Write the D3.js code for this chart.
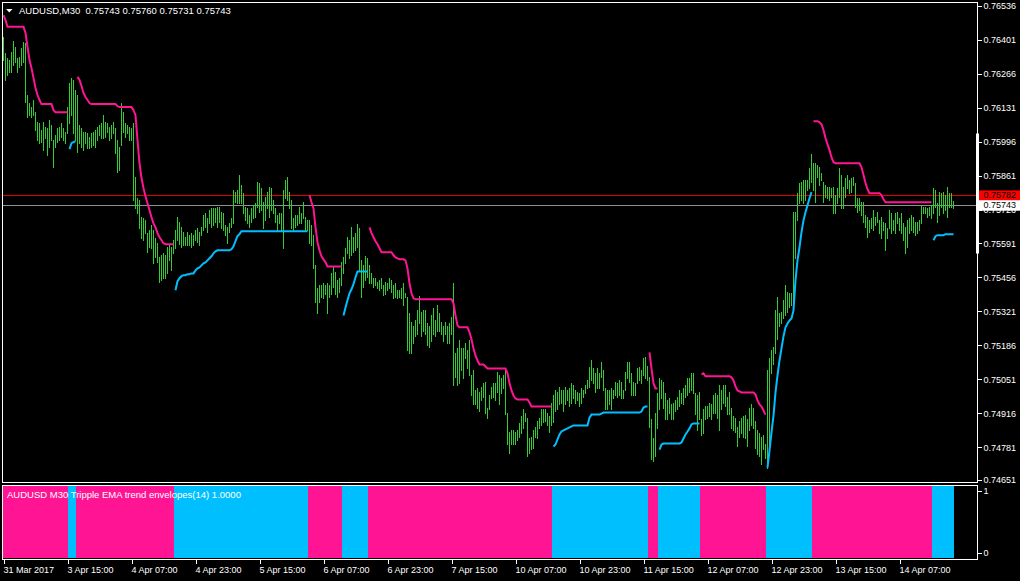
<!DOCTYPE html>
<html>
<head>
<meta charset="utf-8">
<script src="https://cdn.jsdelivr.net/npm/d3@7"></script>
<style>
  html, body { margin: 0; padding: 0; background: #000; }
  svg { display: block; }
  text { font-family: "Liberation Sans", Arial, sans-serif; fill: #fff; white-space: pre; }
</style>
</head>
<body>
<svg id="chart" width="1020" height="581"></svg>
<script>
// ---------------- DATA (prices in points, 1 point = 0.00001) ----------------
const symbolName = "AUDUSD,M30";
const lastOHLC = [0.75743, 0.75760, 0.75731, 0.75743];
const indicatorLabel = "AUDUSD M30 Tripple EMA trend envelopes(14) 1.0000";
const bidPrice = 0.75743;
const askPrice = 0.75782;
const scaleMarker = [0.76028, 0.75551];

const priceTicks = [0.76536, 0.76401, 0.76266, 0.76131, 0.75996, 0.75861, 0.75726,
  0.75591, 0.75456, 0.75321, 0.75186, 0.75051, 0.74916, 0.74781, 0.74651];
const priceMin = 0.74651, priceTop = 0.76536;

const timeLabels = ["31 Mar 2017", "3 Apr 15:00", "4 Apr 07:00", "4 Apr 23:00", "5 Apr 15:00",
  "6 Apr 07:00", "6 Apr 23:00", "7 Apr 15:00", "10 Apr 07:00", "10 Apr 23:00", "11 Apr 15:00",
  "12 Apr 07:00", "12 Apr 23:00", "13 Apr 15:00", "14 Apr 07:00"];
const timeLabelBars = [0, 32, 64, 96, 128, 160, 192, 224, 256, 288, 320, 352, 384, 416, 448];

const highs = [
76412,76348,76328,76320,76352,76396,76372,76328,76332,76368,
76392,76388,76181,76149,76133,76161,76113,76073,76069,76042,
76073,76054,76050,76081,76062,76002,76022,76050,76054,76069,
76050,76034,76133,76229,76249,76241,76201,76181,76062,76050,
76034,76034,76030,76014,76030,76034,76042,76054,76062,76069,
76101,76073,76069,76054,76062,76073,76050,76002,75974,76149,
76113,76069,76062,76054,76050,76069,75855,75771,75763,75695,
75691,75683,75632,75644,75664,75644,75612,75592,75536,75544,
75552,75544,75576,75584,75576,75604,75644,75695,75675,75655,
75636,75616,75636,75624,75632,75624,75644,75652,75636,75655,
75703,75711,75691,75723,75731,75731,75731,75735,75735,75715,
75711,75664,75655,75671,75691,75803,75795,75803,75863,75823,
75791,75735,75731,75703,75731,75743,75751,75835,75831,75811,
75755,75775,75795,75815,75811,75763,75731,75703,75711,75711,
75803,75843,75855,75795,75763,75691,75703,75703,75735,75711,
75755,75695,75683,75683,75664,75624,75504,75413,75425,75425,
75433,75425,75433,75425,75472,75496,75476,75445,75453,75516,
75536,75572,75616,75604,75655,75616,75632,75667,75651,75524,
75504,75540,75532,75504,75472,75453,75453,75437,75445,75453,
75425,75437,75433,75453,75445,75425,75433,75405,75405,75413,
75433,75393,75377,75313,75277,75265,75285,75325,75381,75317,
75325,75325,75273,75265,75305,75333,75285,75345,75313,75277,
75265,75277,75265,75273,75297,75433,75154,75174,75206,75174,
75174,75194,75166,75206,75067,75087,75007,75015,74999,75019,
75035,75039,74939,74987,75019,75035,75035,75079,75067,75055,
75067,75087,74919,74840,74848,74848,74840,74848,74876,74907,
74935,74919,74899,74816,74820,74848,74860,74887,74899,74935,
74935,74935,74919,74907,74959,74987,75007,74999,75019,75007,
75007,75019,75007,75015,75035,75027,75007,74999,74995,75015,
75007,75027,75047,75099,75126,75095,75075,75095,75075,75118,
75087,75015,75007,75007,75015,75007,75039,75035,75047,75039,
75007,75079,75118,75118,75075,75039,75035,75095,75099,75087,
75134,75138,75106,75059,74895,74816,74919,74995,75055,75047,
75039,74995,74967,74975,74955,74959,74967,74979,75007,74995,
75015,75027,75055,75055,75075,75075,74995,74987,74999,74895,
74935,74947,74947,74959,74955,74987,74995,74987,75027,75007,
75027,75027,74979,74999,74939,74907,74899,74860,74887,74899,
74907,74911,74895,74939,74955,74939,74887,74848,74836,74820,
74828,74796,75087,75134,75166,75178,75325,75377,75313,75317,
75365,75425,75397,75393,75393,75715,75715,75791,75831,75835,
75843,75843,75843,75890,75946,75910,75910,75902,75894,75870,
75835,75823,75815,75815,75811,75815,75783,75811,75890,75863,
75815,75851,75863,75843,75851,75855,75831,75771,75771,75755,
75755,75703,75695,75683,75691,75723,75695,75715,75683,75695,
75675,75671,75651,75723,75711,75683,75711,75715,75691,75711,
75671,75655,75683,75691,75703,75695,75675,75675,75683,75743,
75735,75735,75731,75735,75743,75811,75803,75751,75795,75791,
75795,75783,75815,75791,75791,75760];

const lows = [
76320,76241,76261,76272,76272,76300,76312,76272,76292,76300,
76312,76153,76093,76101,76093,76101,76042,76002,75990,75994,
75962,76010,75942,75974,76002,75894,75974,75994,76002,76014,
76002,75990,76030,76069,76101,76030,76002,75954,75990,75974,
75962,75990,75970,75970,75974,75982,75974,76002,76022,76010,
76010,76014,76034,76002,76010,76030,75950,75874,75882,75982,
76034,76014,76030,76002,76002,75763,75731,75711,75652,75612,
75604,75632,75556,75576,75572,75512,75536,75516,75437,75445,
75453,75453,75472,75524,75484,75552,75572,75604,75588,75576,
75584,75584,75584,75584,75576,75584,75604,75596,75584,75624,
75644,75655,75636,75671,75655,75663,75675,75655,75675,75651,
75644,75624,75592,75636,75655,75671,75755,75751,75751,75751,
75711,75683,75671,75655,75675,75691,75695,75735,75715,75723,
75651,75683,75731,75695,75723,75711,75675,75644,75671,75644,
75572,75771,75763,75731,75651,75644,75655,75663,75671,75671,
75691,75644,75644,75592,75584,75492,75357,75313,75357,75377,
75373,75389,75313,75377,75389,75417,75389,75377,75397,75425,
75472,75512,75552,75532,75544,75556,75564,75576,75484,75377,
75417,75445,75457,75433,75433,75417,75425,75413,75405,75413,
75385,75389,75405,75413,75397,75373,75377,75373,75377,75373,
75345,75377,75166,75154,75154,75197,75225,75233,75273,75225,
75245,75233,75189,75181,75205,75233,75225,75245,75245,75233,
75205,75233,75197,75197,75233,75027,75059,75027,75035,75087,
75055,75134,75095,75067,74987,74955,74955,74939,74927,74967,
74979,74919,74899,74935,74975,74979,74967,74999,74955,74995,
75015,74915,74796,74760,74796,74796,74796,74808,74820,74836,
74856,74887,74748,74760,74776,74780,74820,74816,74856,74868,
74880,74887,74868,74840,74868,74880,74927,74935,74955,74959,
74927,74955,74967,74947,74959,74975,74959,74967,74947,74959,
74979,74995,75015,75019,75047,75035,74999,75015,75015,75059,
75007,74935,74935,74955,74935,74975,74987,74979,74987,74975,
74975,75007,75055,75039,74987,74987,74987,75035,75047,75035,
75067,75055,75047,74860,74736,74728,74748,74856,74935,74975,
74939,74895,74895,74919,74895,74895,74927,74935,74947,74959,
74955,74979,74987,74999,75007,74995,74915,74848,74895,74828,
74836,74895,74899,74907,74895,74919,74919,74899,74848,74935,
74959,74947,74915,74915,74856,74848,74840,74788,74820,74836,
74820,74816,74788,74848,74868,74856,74780,74756,74748,74716,
74776,74740,74700,74776,75075,75114,75154,75211,75265,75273,
75293,75305,75317,75337,75345,75353,75532,75683,75751,75763,
75751,75763,75803,75811,75835,75803,75755,75855,75823,75843,
75755,75775,75771,75763,75775,75711,75711,75751,75775,75731,
75731,75775,75811,75791,75795,75823,75735,75715,75723,75703,
75675,75655,75616,75636,75651,75644,75664,75675,75632,75612,
75644,75564,75612,75651,75632,75644,75632,75671,75644,75632,
75604,75552,75576,75632,75644,75636,75624,75632,75644,75671,
75711,75711,75695,75703,75691,75711,75735,75675,75703,75735,
75711,75723,75695,75735,75735,75731];

// active envelope value for each bar (upper band in a down trend, lower band in an up trend)
const envelope = [
76499,76479,76452,76452,76452,76452,76452,76452,76452,76452,
76452,76428,76372,76320,76288,76249,76209,76181,76161,76145,
76145,76145,76145,76145,76145,76121,76113,76113,76113,76113,
76113,76113,76113,75966,75990,75994,75998,76253,76241,76217,
76189,76173,76161,76149,76145,76145,76145,76145,76145,76145,
76145,76145,76145,76145,76145,76145,76145,76137,76133,76133,
76133,76133,76133,76133,76133,76121,76101,76002,75910,75851,
75811,75779,75751,75723,75695,75671,75655,75632,75616,75604,
75592,75588,75588,75588,75588,75588,75405,75441,75453,75461,
75465,75465,75469,75469,75472,75472,75484,75492,75496,75504,
75512,75516,75524,75532,75540,75552,75560,75564,75564,75564,
75564,75564,75564,75564,75568,75580,75600,75620,75628,75640,
75640,75640,75640,75640,75640,75640,75640,75640,75640,75640,
75640,75640,75640,75640,75640,75640,75640,75640,75640,75640,
75640,75640,75640,75640,75640,75640,75640,75640,75640,75640,
75640,75640,75640,75783,75755,75731,75655,75596,75564,75540,
75528,75516,75500,75500,75500,75500,75500,75500,75500,75500,
75305,75337,75365,75393,75409,75429,75457,75480,75480,75480,
75480,75480,75480,75655,75632,75616,75600,75588,75572,75556,
75556,75556,75556,75556,75556,75544,75536,75532,75528,75528,
75528,75524,75492,75433,75393,75373,75369,75369,75369,75369,
75369,75369,75369,75369,75369,75369,75369,75369,75369,75369,
75369,75369,75369,75369,75369,75353,75305,75265,75258,75258,
75258,75258,75258,75238,75210,75174,75146,75126,75110,75110,
75110,75102,75094,75094,75094,75094,75094,75094,75094,75094,
75094,75094,75075,75035,75007,74987,74975,74971,74971,74971,
74971,74971,74971,74959,74943,74943,74943,74943,74943,74943,
74943,74943,74943,74943,74943,74784,74792,74812,74832,74844,
74848,74852,74856,74860,74864,74868,74868,74868,74868,74868,
74868,74868,74868,74899,74911,74911,74911,74911,74911,74915,
74919,74919,74919,74919,74919,74919,74919,74919,74919,74919,
74919,74919,74919,74919,74919,74919,74919,74919,74919,74923,
74939,74943,74943,75158,75094,75035,75015,75015,74772,74792,
74796,74796,74796,74796,74796,74796,74796,74796,74796,74800,
74816,74832,74844,74856,74872,74876,74876,74876,74876,75071,
75075,75063,75063,75063,75063,75063,75063,75063,75063,75063,
75063,75063,75063,75063,75059,75047,75023,75007,75003,74999,
74999,74999,74999,74999,74999,74999,74991,74967,74951,74943,
74927,74911,74700,74768,74840,74907,74999,75067,75126,75174,
75222,75258,75273,75285,75293,75325,75445,75524,75576,75636,
75683,75715,75743,75771,75795,76077,76077,76077,76073,76065,
76042,76010,75986,75962,75934,75914,75910,75910,75910,75910,
75910,75910,75910,75910,75910,75910,75910,75910,75910,75894,
75863,75831,75807,75791,75791,75791,75791,75791,75791,75783,
75767,75755,75755,75755,75755,75755,75755,75755,75755,75755,
75755,75755,75755,75755,75755,75755,75755,75755,75755,75755,
75755,75755,75755,75755,75755,75604,75620,75624,75624,75624,
75624,75628,75628,75628,75628,75628];

// trend runs: first bar of each run and its direction (-1 = down / pink, 1 = up / blue)
const trendStart = [0, 33, 37, 86, 153, 170, 183, 275, 323, 328, 349, 382, 405, 465];
const trendDir   = [-1, 1, -1, 1, -1, 1, -1, 1, -1, 1, -1, 1, -1, 1];

// ---------------- DRAWING ----------------
const N = highs.length;
const pts = v => v / 1e5;
const COL_DOWN = "#ff1493", COL_UP = "#00bfff", COL_BAR = "#32cd32";
const svg = d3.select("#chart");
svg.append("rect").attr("width", 1020).attr("height", 581).attr("fill", "#000");

const x = d3.scaleLinear().domain([0, 475]).range([3, 953]);
const y = d3.scaleLinear().domain([priceMin, priceTop]).range([480, 5.7]);
const yi = d3.scaleLinear().domain([0, 1]).range([558, 486]);

// trend per bar
const trendOf = new Array(N);
trendStart.forEach((s, k) => {
  const e = k + 1 < trendStart.length ? trendStart[k + 1] : N;
  for (let i = s; i < e; i++) trendOf[i] = trendDir[k];
});

// main window frame
svg.append("rect").attr("x", 2.5).attr("y", 2.5).attr("width", 975).attr("height", 480)
  .attr("fill", "none").attr("stroke", "#fff").attr("shape-rendering", "crispEdges");

const plot = svg.append("g");
// ask / bid lines
plot.append("line").attr("x1", 3).attr("x2", 977)
  .attr("y1", Math.round(y(askPrice)) + 0.5).attr("y2", Math.round(y(askPrice)) + 0.5)
  .attr("stroke", "#e00000").attr("shape-rendering", "crispEdges");
plot.append("line").attr("x1", 3).attr("x2", 977)
  .attr("y1", Math.round(y(bidPrice)) + 0.5).attr("y2", Math.round(y(bidPrice)) + 0.5)
  .attr("stroke", "#909090").attr("shape-rendering", "crispEdges");

// price bars (high-low)
plot.append("g").selectAll("line").data(d3.range(N)).join("line")
  .attr("x1", i => Math.round(x(i)) + 0.5).attr("x2", i => Math.round(x(i)) + 0.5)
  .attr("y1", i => y(pts(highs[i]))).attr("y2", i => y(pts(lows[i])) + 1)
  .attr("stroke", COL_BAR).attr("stroke-width", 1).attr("shape-rendering", "crispEdges");

// envelope lines
const line = d3.line().x(i => x(i) + 0.5).y(i => y(pts(envelope[i])));
trendStart.forEach((s, k) => {
  const e = k + 1 < trendStart.length ? trendStart[k + 1] - 1 : N - 1;
  plot.append("path").datum(d3.range(s, e + 1))
    .attr("d", line).attr("fill", "none")
    .attr("stroke", trendDir[k] < 0 ? COL_DOWN : COL_UP).attr("stroke-width", 2);
});

// right price axis
const yAxis = d3.axisRight(y).tickValues(priceTicks).tickSize(4).tickPadding(2)
  .tickFormat(d3.format(".5f"));
const ya = svg.append("g").attr("transform", "translate(977.5,0)").call(yAxis);
ya.select(".domain").remove();
ya.selectAll("line").attr("stroke", "#fff").attr("shape-rendering", "crispEdges");
ya.selectAll("text").attr("fill", "#fff").style("font-size", "9px").attr("font-family", null);

// scale marker bar
svg.append("rect").attr("x", 976).attr("y", y(scaleMarker[0]))
  .attr("width", 3).attr("height", y(scaleMarker[1]) - y(scaleMarker[0])).attr("fill", "#fff");

// ask / bid labels
function priceBox(p, bg, ty) {
  const yc = y(p);
  svg.append("rect").attr("x", 979).attr("y", yc - 5).attr("width", 41).attr("height", 10.5).attr("fill", bg);
  svg.append("text").attr("x", 983.5).attr("y", yc).attr("dy", "0.34em")
    .style("font-size", "9px").style("fill", ty).text(d3.format(".5f")(p));
}
priceBox(askPrice, "#ff0000", "#000");
priceBox(bidPrice, "#ffffff", "#000");

// title
svg.append("path").attr("d", "M6,9 L12.5,9 L9.25,12.5 Z").attr("fill", "#fff");
svg.append("text").attr("x", 19).attr("y", 14).style("font-size", "9.5px")
  .text(symbolName + "  " + lastOHLC.map(d3.format(".5f")).join(" "));

// indicator window
const ind = svg.append("g");
ind.selectAll("rect").data(d3.range(N)).join("rect")
  .attr("x", i => x(i) - 1).attr("width", 2)
  .attr("y", yi(1)).attr("height", yi(0) - yi(1))
  .attr("fill", i => trendOf[i] < 0 ? COL_DOWN : COL_UP)
  .attr("shape-rendering", "crispEdges");
svg.append("rect").attr("x", 2.5).attr("y", 485.5).attr("width", 975).attr("height", 74)
  .attr("fill", "none").attr("stroke", "#fff").attr("shape-rendering", "crispEdges");
svg.append("text").attr("x", 7).attr("y", 497.5).style("font-size", "9.5px").text(indicatorLabel);
[[1, 5], [0, -5]].forEach(([v, off]) => {
  svg.append("line").attr("x1", 977.5).attr("x2", 981.5)
    .attr("y1", yi(v) + off + 0.5).attr("y2", yi(v) + off + 0.5)
    .attr("stroke", "#fff").attr("shape-rendering", "crispEdges");
  svg.append("text").attr("x", 983.5).attr("y", yi(v) + off).attr("dy", "0.34em")
    .style("font-size", "9px").text(String(v));
});

// time axis
const xAxis = d3.axisBottom(x).tickValues(timeLabelBars).tickSize(4).tickPadding(3)
  .tickFormat((d, k) => timeLabels[k]);
const xa = svg.append("g").attr("transform", "translate(0.5,559.5)").call(xAxis);
xa.select(".domain").remove();
xa.selectAll("line").attr("stroke", "#fff").attr("shape-rendering", "crispEdges");
xa.selectAll("text").attr("fill", "#fff").attr("text-anchor", "start").attr("x", -0.5)
  .style("font-size", "9px");
</script>
</body>
</html>
